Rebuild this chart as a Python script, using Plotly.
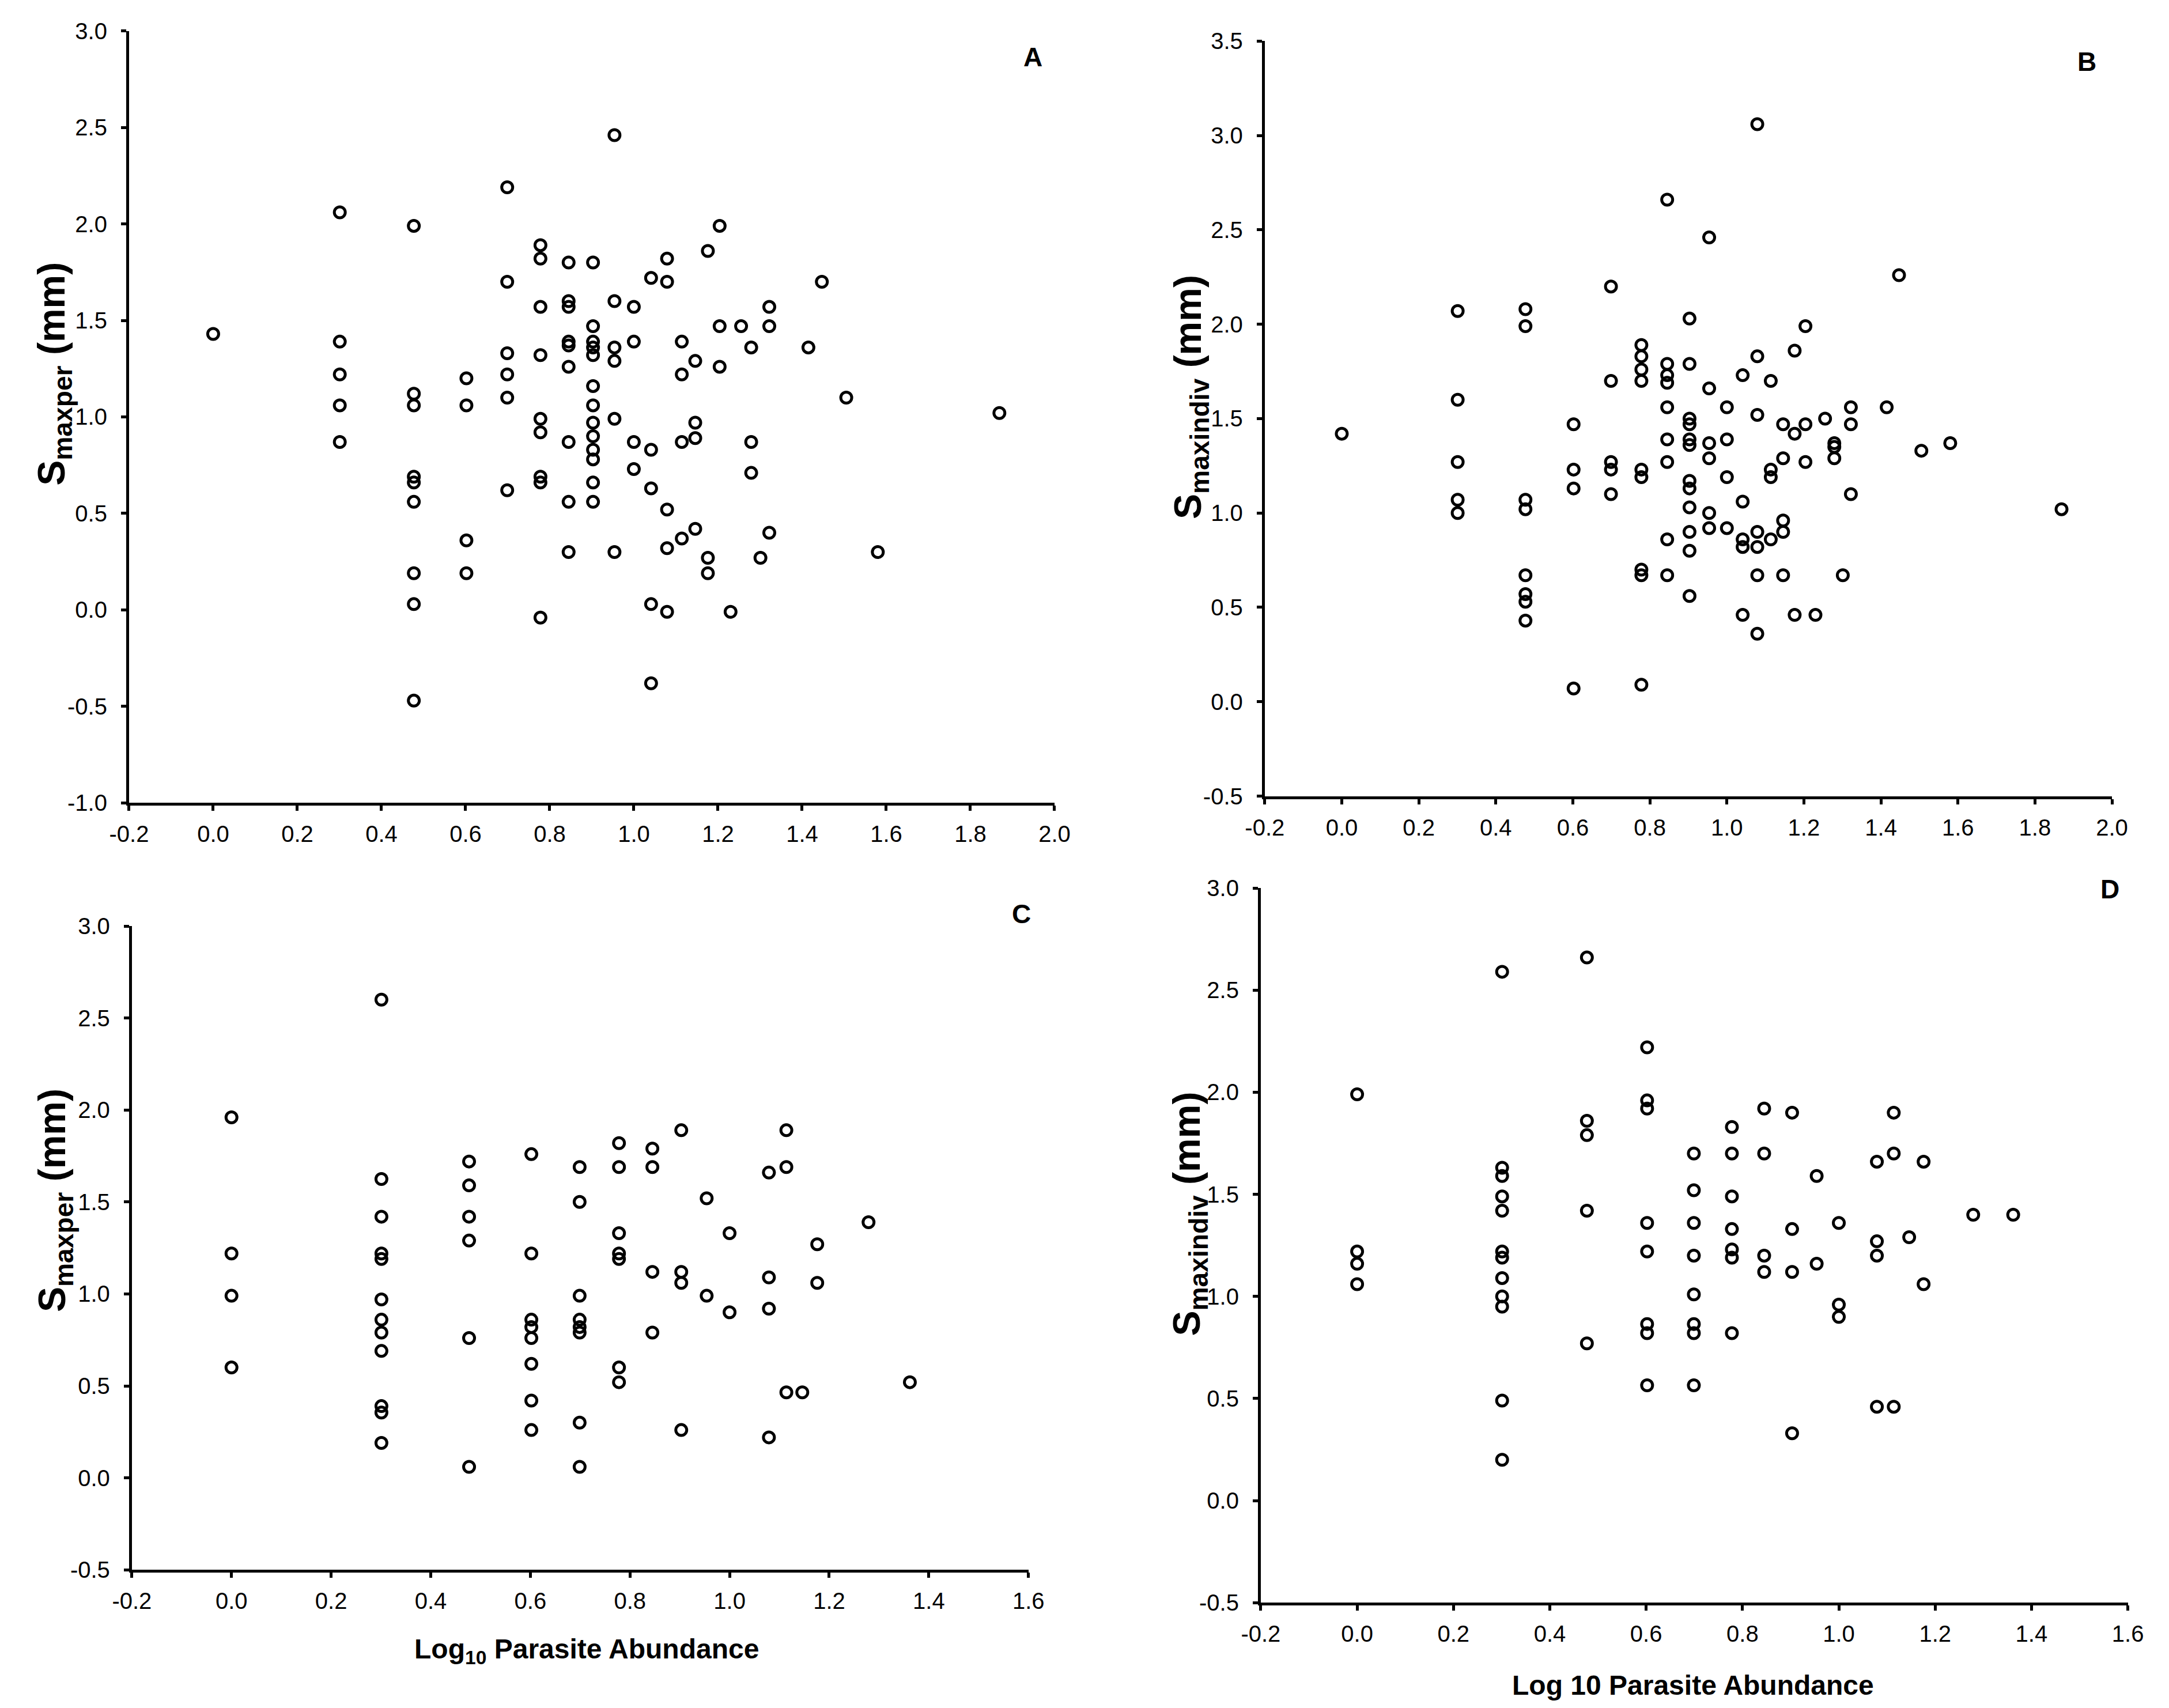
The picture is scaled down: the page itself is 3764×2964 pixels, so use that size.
import plotly.graph_objects as go

# panel A: log10 parasite abundance vs S_maxper
a_x = [0.0,
       0.301, 0.301, 0.301, 0.301, 0.301,
       0.477, 0.477, 0.477, 0.477, 0.477, 0.477, 0.477, 0.477, 0.477,
       0.602, 0.602, 0.602, 0.602,
       0.699, 0.699, 0.699, 0.699, 0.699, 0.699,
       0.778, 0.778, 0.778, 0.778, 0.778, 0.778, 0.778, 0.778, 0.778,
       0.845, 0.845, 0.845, 0.845, 0.845, 0.845, 0.845, 0.845, 0.845,
       0.903, 0.903, 0.903, 0.903, 0.903, 0.903, 0.903, 0.903, 0.903, 0.903, 0.903, 0.903, 0.903,
       0.954, 0.954, 0.954, 0.954, 0.954, 0.954,
       1.0, 1.0, 1.0, 1.0,
       1.041, 1.041, 1.041, 1.041, 1.041,
       1.079, 1.079, 1.079, 1.079, 1.079,
       1.114, 1.114, 1.114, 1.114,
       1.146, 1.146, 1.146, 1.146,
       1.176, 1.176, 1.176,
       1.204, 1.204, 1.204,
       1.230, 1.255,
       1.279, 1.279, 1.279,
       1.301,
       1.322, 1.322, 1.322,
       1.415, 1.447, 1.505, 1.580, 1.869]
a_y = [1.43,
       2.06, 1.39, 1.22, 1.06, 0.87,
       1.99, 1.12, 1.06, 0.69, 0.66, 0.56, 0.19, 0.03, -0.47,
       1.20, 1.06, 0.36, 0.19,
       2.19, 1.70, 1.33, 1.22, 1.10, 0.62,
       1.89, 1.82, 1.57, 1.32, 0.99, 0.92, 0.69, 0.66, -0.04,
       1.80, 1.60, 1.57, 1.39, 1.37, 1.26, 0.87, 0.56, 0.30,
       1.80, 1.47, 1.39, 1.36, 1.32, 1.16, 1.06, 0.97, 0.90, 0.83, 0.78, 0.66, 0.56,
       2.46, 1.60, 1.36, 1.29, 0.99, 0.30,
       1.57, 1.39, 0.87, 0.73,
       1.72, 0.83, 0.63, 0.03, -0.38,
       1.82, 1.70, 0.52, 0.32, -0.01,
       1.39, 1.22, 0.87, 0.37,
       1.29, 0.97, 0.89, 0.42,
       1.86, 0.27, 0.19,
       1.99, 1.47, 1.26,
       -0.01, 1.47,
       1.36, 0.87, 0.71,
       0.27,
       1.57, 1.47, 0.40,
       1.36, 1.70, 1.10, 0.30, 1.02]

# panel B: log10 parasite abundance vs S_maxindiv
b_x = [0.0,
       0.301, 0.301, 0.301, 0.301, 0.301,
       0.477, 0.477, 0.477, 0.477, 0.477, 0.477, 0.477, 0.477,
       0.602, 0.602, 0.602, 0.602,
       0.699, 0.699, 0.699, 0.699, 0.699,
       0.778, 0.778, 0.778, 0.778, 0.778, 0.778, 0.778, 0.778, 0.778,
       0.845, 0.845, 0.845, 0.845, 0.845, 0.845, 0.845, 0.845, 0.845,
       0.903, 0.903, 0.903, 0.903, 0.903, 0.903, 0.903, 0.903, 0.903, 0.903, 0.903, 0.903,
       0.954, 0.954, 0.954, 0.954, 0.954, 0.954,
       1.0, 1.0, 1.0, 1.0,
       1.041, 1.041, 1.041, 1.041, 1.041,
       1.079, 1.079, 1.079, 1.079, 1.079, 1.079, 1.079,
       1.114, 1.114, 1.114, 1.114,
       1.146, 1.146, 1.146, 1.146, 1.146,
       1.176, 1.176, 1.176,
       1.204, 1.204, 1.204,
       1.230, 1.255,
       1.279, 1.279, 1.279,
       1.301,
       1.322, 1.322, 1.322,
       1.415, 1.447, 1.505, 1.580, 1.869]
b_y = [1.42,
       2.07, 1.60, 1.27, 1.07, 1.00,
       2.08, 1.99, 1.07, 1.02, 0.67, 0.57, 0.53, 0.43,
       1.47, 1.23, 1.13, 0.07,
       2.20, 1.70, 1.27, 1.23, 1.10,
       1.89, 1.83, 1.76, 1.70, 1.23, 1.19, 0.70, 0.67, 0.09,
       2.66, 1.79, 1.73, 1.69, 1.56, 1.39, 1.27, 0.86, 0.67,
       2.03, 1.79, 1.50, 1.47, 1.39, 1.36, 1.17, 1.13, 1.03, 0.90, 0.80, 0.56,
       2.46, 1.66, 1.37, 1.29, 1.00, 0.92,
       1.56, 1.39, 1.19, 0.92,
       1.73, 1.06, 0.86, 0.82, 0.46,
       3.06, 1.83, 1.52, 0.90, 0.82, 0.67, 0.36,
       1.70, 1.23, 1.19, 0.86,
       1.47, 1.29, 0.96, 0.90, 0.67,
       1.86, 1.42, 0.46,
       1.99, 1.47, 1.27,
       0.46, 1.50,
       1.37, 1.35, 1.29,
       0.67,
       1.56, 1.47, 1.10,
       1.56, 2.26, 1.33, 1.37, 1.02]

# panel C
c_x = [0.0, 0.0, 0.0, 0.0,
       0.301, 0.301, 0.301, 0.301, 0.301, 0.301, 0.301, 0.301, 0.301, 0.301, 0.301, 0.301,
       0.477, 0.477, 0.477, 0.477, 0.477, 0.477,
       0.602, 0.602, 0.602, 0.602, 0.602, 0.602, 0.602, 0.602,
       0.699, 0.699, 0.699, 0.699, 0.699, 0.699, 0.699, 0.699,
       0.778, 0.778, 0.778, 0.778, 0.778, 0.778, 0.778,
       0.845, 0.845, 0.845, 0.845,
       0.903, 0.903, 0.903, 0.903,
       0.954, 0.954,
       1.0, 1.0,
       1.079, 1.079, 1.079, 1.079,
       1.114, 1.114, 1.114,
       1.146,
       1.176, 1.176,
       1.279, 1.362]
c_y = [1.96, 1.22, 0.99, 0.60,
       2.60, 1.625, 1.42, 1.22, 1.19, 0.97, 0.86, 0.79, 0.69, 0.39, 0.355, 0.19,
       1.72, 1.59, 1.42, 1.29, 0.76, 0.06,
       1.76, 1.22, 0.86, 0.82, 0.76, 0.62, 0.42, 0.26,
       1.69, 1.50, 0.99, 0.86, 0.82, 0.79, 0.30, 0.06,
       1.82, 1.69, 1.33, 1.22, 1.19, 0.60, 0.52,
       1.79, 1.69, 1.12, 0.79,
       1.89, 1.12, 1.06, 0.26,
       1.52, 0.99,
       1.33, 0.90,
       1.66, 1.09, 0.92, 0.22,
       1.89, 1.69, 0.465,
       0.465,
       1.27, 1.06,
       1.39, 0.52]

# panel D
d_x = [0.0, 0.0, 0.0, 0.0,
       0.301, 0.301, 0.301, 0.301, 0.301, 0.301, 0.301, 0.301, 0.301, 0.301, 0.301, 0.301,
       0.477, 0.477, 0.477, 0.477, 0.477,
       0.602, 0.602, 0.602, 0.602, 0.602, 0.602, 0.602, 0.602,
       0.699, 0.699, 0.699, 0.699, 0.699, 0.699, 0.699, 0.699,
       0.778, 0.778, 0.778, 0.778, 0.778, 0.778, 0.778,
       0.845, 0.845, 0.845, 0.845,
       0.903, 0.903, 0.903, 0.903,
       0.954, 0.954,
       1.0, 1.0, 1.0,
       1.079, 1.079, 1.079, 1.079,
       1.114, 1.114, 1.114,
       1.146,
       1.176, 1.176,
       1.279, 1.362]
d_y = [1.99, 1.22, 1.16, 1.06,
       2.59, 1.63, 1.59, 1.49, 1.42, 1.22, 1.19, 1.09, 1.00, 0.95, 0.49, 0.20,
       2.66, 1.86, 1.79, 1.42, 0.77,
       2.22, 1.96, 1.92, 1.36, 1.22, 0.865, 0.82, 0.565,
       1.70, 1.52, 1.36, 1.20, 1.01, 0.865, 0.82, 0.565,
       1.83, 1.70, 1.49, 1.33, 1.23, 1.19, 0.82,
       1.92, 1.70, 1.20, 1.12,
       1.90, 1.33, 1.12, 0.33,
       1.59, 1.16,
       1.36, 0.96, 0.90,
       1.66, 1.27, 1.20, 0.46,
       1.90, 1.70, 0.46,
       1.29,
       1.66, 1.06,
       1.40, 1.40]

x_ticks_ab = [-0.2, 0.0, 0.2, 0.4, 0.6, 0.8, 1.0, 1.2, 1.4, 1.6, 1.8, 2.0]
x_ticks_cd = [-0.2, 0.0, 0.2, 0.4, 0.6, 0.8, 1.0, 1.2, 1.4, 1.6]
y_ticks_a = [-1.0, -0.5, 0.0, 0.5, 1.0, 1.5, 2.0, 2.5, 3.0]
y_ticks_b = [-0.5, 0.0, 0.5, 1.0, 1.5, 2.0, 2.5, 3.0, 3.5]
y_ticks_cd = [-0.5, 0.0, 0.5, 1.0, 1.5, 2.0, 2.5, 3.0]

W, H = 3748, 2948
FONT = "Liberation Sans, Arial, sans-serif"

def px_x(p):
    return p / W

def px_y(p):
    return 1 - p / H

# plot areas in figure pixels: (left, right, top, bottom)
boxes = {
    "A": (185, 1818, 24, 1384),
    "B": (2189, 3684, 42, 1372),
    "C": (190, 1772, 1601, 2735),
    "D": (2182, 3712, 1534, 2793),
}

fig = go.Figure()
panels = [("A", a_x, a_y, "", x_ticks_ab, y_ticks_a),
          ("B", b_x, b_y, "2", x_ticks_ab, y_ticks_b),
          ("C", c_x, c_y, "3", x_ticks_cd, y_ticks_cd),
          ("D", d_x, d_y, "4", x_ticks_cd, y_ticks_cd)]

for name, xs, ys, n, xt, yt in panels:
    fig.add_trace(go.Scatter(
        x=xs, y=ys, mode="markers", xaxis="x" + n, yaxis="y" + n,
        marker=dict(symbol="circle-open", size=19, color="black",
                    line=dict(width=5, color="black")),
        showlegend=False, cliponaxis=False))
    l, r, t, b = boxes[name]
    common = dict(showline=True, linecolor="black", linewidth=5,
                  ticks="outside", ticklen=9, tickwidth=5, tickcolor="black",
                  showgrid=False, zeroline=False,
                  tickfont=dict(family=FONT, size=40, color="black"))
    fig.layout["xaxis" + n] = dict(
        domain=[px_x(l), px_x(r)], anchor="y" + n,
        range=[xt[0], xt[-1]], tickvals=xt,
        ticktext=[f"{v:.1f}" for v in xt], ticklabelstandoff=6, **common)
    fig.layout["yaxis" + n] = dict(
        domain=[px_y(b), px_y(t)], anchor="x" + n,
        range=[yt[0], yt[-1]], tickvals=yt,
        ticktext=[f"{v:.1f}" for v in yt], ticklabelstandoff=16, **common)

annotations = []
# panel letters, positioned in figure pixels
letters = [("A", 1780, 70), ("B", 3640, 78), ("C", 1760, 1580), ("D", 3680, 1536)]
for txt, x, y in letters:
    annotations.append(dict(text=f"<b>{txt}</b>", x=px_x(x), y=px_y(y), xref="paper", yref="paper",
                            xanchor="center", yanchor="middle", showarrow=False,
                            font=dict(family=FONT, size=46, color="black")))

# y axis titles
ytitles = [("<b>S<sub>maxper</sub> (mm)</b>", 52, 628),
           ("<b>S<sub>maxindiv</sub> (mm)</b>", 2058, 669),
           ("<b>S<sub>maxper</sub> (mm)</b>", 54, 2084),
           ("<b>S<sub>maxindiv</sub> (mm)</b>", 2056, 2108)]
for txt, x, y in ytitles:
    annotations.append(dict(text=txt, x=px_x(x), y=px_y(y), xref="paper", yref="paper",
                            xanchor="center", yanchor="middle", textangle=-90, showarrow=False,
                            font=dict(family=FONT, size=66, color="black")))

# x axis titles
xtitles = [("<b>Log<sub>10</sub> Parasite Abundance</b>", 992, 2878),
           ("<b>Log 10 Parasite Abundance</b>", 2945, 2938)]
for txt, x, y in xtitles:
    annotations.append(dict(text=txt, x=px_x(x), y=px_y(y), xref="paper", yref="paper",
                            xanchor="center", yanchor="middle", showarrow=False,
                            font=dict(family=FONT, size=48, color="black")))

fig.update_layout(width=W, height=H, margin=dict(l=0, r=0, t=0, b=0),
                  paper_bgcolor="white", plot_bgcolor="white",
                  annotations=annotations)

fig.write_html("out.html")
